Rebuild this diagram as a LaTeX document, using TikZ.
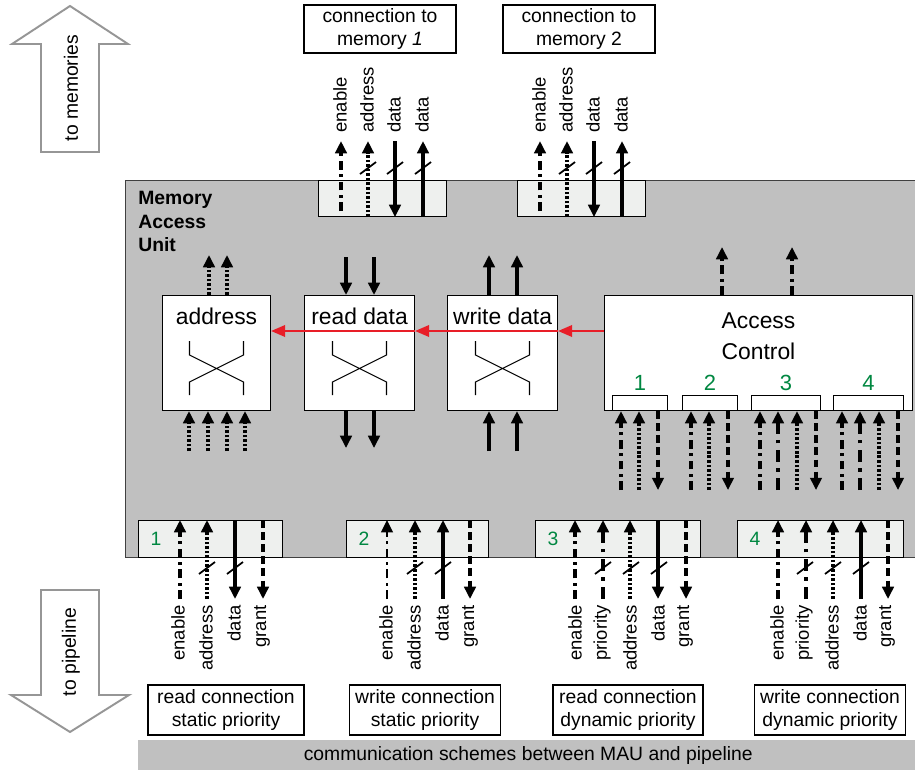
\documentclass[tikz,border=0pt]{standalone}
\usepackage{fontspec}
\setmainfont{Liberation Sans}
\usetikzlibrary{arrows.meta,calc}
\definecolor{maugray}{RGB}{192,192,192}
\definecolor{portgray}{RGB}{238,240,238}
\definecolor{numgreen}{RGB}{0,135,65}
\definecolor{ctlred}{RGB}{232,30,40}
\definecolor{outline}{RGB}{150,150,150}
\begin{document}
\begin{tikzpicture}[x=0.02cm,y=-0.02cm,font=\fontsize{11}{13.5}\selectfont,
  sigtip/.style={-{Triangle[length=7pt,width=6.5pt]}},
  ensig/.style={sigtip,line width=2pt,dash pattern=on 5pt off 2.6pt on 1.6pt off 2.6pt},
  adsig/.style={sigtip,line width=2.2pt,dash pattern=on 1.5pt off 1.1pt},
  dtsig/.style={sigtip,line width=2.2pt},
  grsig/.style={sigtip,line width=2pt,dash pattern=on 4.5pt off 2.4pt},
  prsig/.style={sigtip,line width=2.8pt,dash pattern=on 7pt off 3.5pt on 2pt off 3.5pt},
  bus/.style={line width=1pt},
  frm/.style={draw,line width=0.6pt,inner sep=0pt},
  blk/.style={frm,fill=white,anchor=north west,minimum height=2.3cm},
  port/.style={frm,fill=portgray,anchor=north west},
  cbox/.style={frm,fill=white,align=center,minimum height=0.96cm},
  vlab/.style={rotate=90,inner sep=0pt,font=\fontsize{10.5}{12}\selectfont},
  blab/.style={font=\fontsize{13}{17.6}\selectfont,align=center},
  num/.style={text=numgreen},
  fat/.style={draw=outline,line width=1.1pt,fill=white},
  redsig/.style={ctlred,line width=1.3pt,-{Triangle[length=8pt,width=6.5pt]}},
  xbar/.pic={\draw[line width=0.6pt] (-27,-12) -- (-27,2) -- (27,29) -- (27,42) (27,-12) -- (27,2) -- (-27,29) -- (-27,42);}]
\useasboundingbox (0,0) rectangle (915,770);
\draw[fat] (70,6) -- (128,44) -- (99,44) -- (99,152) -- (41,152) -- (41,44) -- (12,44) -- cycle;
\node[rotate=90] (tomem) at (71,88) {to memories};
\draw[fat] (41,590) -- (99,590) -- (99,695) -- (129,695) -- (70,732) -- (11,695) -- (41,695) -- cycle;
\node[rotate=90] (topipe) at (71,652) {to pipeline};
\node[frm,draw=black!75,fill=maugray,anchor=north west,minimum width=15.9cm,minimum height=7.54cm] (mau) at (125,180) {};
\node[anchor=north west,inner sep=0pt,align=left,font=\fontsize{11}{13.3}\selectfont\bfseries] (mautxt) at (138,191) {Memory\\Access\\Unit};
\node[cbox,minimum width=3.04cm] (mc1) at (380,29) {connection to\\memory \textit{1}};
\node[cbox,minimum width=3.04cm] (mc2) at (579,29) {connection to\\memory 2};
\node[port,minimum width=2.56cm,minimum height=0.72cm] (mp1) at (318,180) {};
\node[port,minimum width=2.56cm,minimum height=0.72cm] (mp2) at (517,180) {};
\foreach \p in {mp1,mp2} {
  \draw[ensig] ($(\p.south west)+(23,-6)$) -- ($(\p.south west)+(23,-76)$);
  \draw[adsig] ($(\p.south west)+(50,0)$) -- ++(0,-76);
  \draw[dtsig] ($(\p.south west)+(77,-76)$) -- ++(0,76);
  \draw[dtsig] ($(\p.south west)+(105,0)$) -- ++(0,-76);
  \foreach \dx in {50,77,105} \draw[bus] ($(\p.south west)+(\dx-8,-43)$) -- ++(16,-12);
  \foreach \dx/\t [count=\i] in {23/enable,50/address,77/data,105/data}
    \node[vlab,anchor=west] (\p l\i) at ($(\p.south west)+(\dx-1,-84)$) {\t};
}
\node[blk,minimum width=2.16cm] (addr) at (162,295) {};
\node[blk,minimum width=2.2cm] (rd) at (304,295) {};
\node[blk,minimum width=2.2cm] (wd) at (447,295) {};
\node[blk,minimum width=6.16cm] (ac) at (604,295) {};
\node[blab] (addrtxt) at ($(addr.north)+(0,21)$) {address};
\node[blab] (rdtxt) at ($(rd.north)+(0,21)$) {read data};
\node[blab] (wdtxt) at ($(wd.north)+(0,21)$) {write data};
\node[blab] (actxt) at ($(ac.north)+(0,41)$) {Access\\Control};
\pic at (addr.center) {xbar};
\pic at (rd.center) {xbar};
\pic at (wd.center) {xbar};
\foreach \dx in {47,65} \draw[adsig] ($(addr.north west)+(\dx,0)$) -- ++(0,-40);
\foreach \dx in {27,46,65,83} \draw[adsig] ($(addr.south west)+(\dx,40)$) -- ($(addr.south west)+(\dx,0)$);
\foreach \dx in {42,70} {
  \draw[dtsig] ($(rd.north west)+(\dx,-38)$) -- ($(rd.north west)+(\dx,0)$);
  \draw[dtsig] ($(rd.south west)+(\dx,0)$) -- ++(0,37);
  \draw[dtsig] ($(wd.north west)+(\dx,0)$) -- ++(0,-40);
  \draw[dtsig] ($(wd.south west)+(\dx,40)$) -- ($(wd.south west)+(\dx,0)$);
}
\foreach \dx in {118,188} \draw[ensig] ($(ac.north west)+(\dx,0)$) -- ++(0,-48);
\node[frm,fill=white,anchor=north west,minimum width=1.1cm,minimum height=0.3cm] (acp1) at (612,395) {};
\node[frm,fill=white,anchor=north west,minimum width=1.1cm,minimum height=0.3cm] (acp2) at (682,395) {};
\node[frm,fill=white,anchor=north west,minimum width=1.38cm,minimum height=0.3cm] (acp3) at (751,395) {};
\node[frm,fill=white,anchor=north west,minimum width=1.4cm,minimum height=0.3cm] (acp4) at (833,395) {};
\foreach \i in {1,...,4} \node[num,font=\fontsize{12.5}{14}\selectfont] (acn\i) at ($(acp\i.north)+(0,-12)$) {\i};
\foreach \p in {acp1,acp2} {
  \draw[ensig] ($(\p.south west)+(9,79)$) -- ($(\p.south west)+(9,0)$);
  \draw[adsig] ($(\p.south west)+(27,79)$) -- ($(\p.south west)+(27,0)$);
  \draw[grsig] ($(\p.south west)+(46,0)$) -- ++(0,79);
}
\foreach \p in {acp3,acp4} {
  \draw[ensig] ($(\p.south west)+(9,79)$) -- ($(\p.south west)+(9,0)$);
  \draw[prsig] ($(\p.south west)+(27,79)$) -- ($(\p.south west)+(27,0)$);
  \draw[adsig] ($(\p.south west)+(46,79)$) -- ($(\p.south west)+(46,0)$);
  \draw[grsig] ($(\p.south west)+(65,0)$) -- ++(0,79);
}
\coordinate (rc) at ($(ac.north west)+(0,36)$);
\draw[redsig] (rc) -- (rc -| wd.east);
\draw[redsig] (rc -| wd.east) -- (rc -| rd.east);
\draw[redsig] (rc -| rd.east) -- (rc -| addr.east);
\node[port,minimum width=2.88cm,minimum height=0.74cm] (pp1) at (138,520) {};
\node[port,minimum width=2.84cm,minimum height=0.74cm] (pp2) at (346,520) {};
\node[port,minimum width=3.3cm,minimum height=0.74cm] (pp3) at (535,520) {};
\node[port,minimum width=3.32cm,minimum height=0.74cm] (pp4) at (737,520) {};
\foreach \i in {1,...,4} \node[num] (ppn\i) at ($(pp\i.west)+(18,0)$) {\i};
\draw[ensig] ($(pp1.north west)+(42,79)$) -- ($(pp1.north west)+(42,0)$);
\draw[adsig] ($(pp1.north west)+(69,79)$) -- ($(pp1.north west)+(69,0)$);
\draw[dtsig] ($(pp1.north west)+(97,0)$) -- ++(0,79);
\draw[grsig] ($(pp1.north west)+(125,0)$) -- ++(0,79);
\draw[ensig,line width=1.4pt] ($(pp2.north west)+(41,79)$) -- ($(pp2.north west)+(41,0)$);
\draw[adsig] ($(pp2.north west)+(69,79)$) -- ($(pp2.north west)+(69,0)$);
\draw[dtsig] ($(pp2.north west)+(97,79)$) -- ($(pp2.north west)+(97,0)$);
\draw[grsig] ($(pp2.north west)+(124,0)$) -- ++(0,79);
\foreach \p in {pp1,pp2} {
  \foreach \dx in {69,97} \draw[bus] ($(\p.north west)+(\dx-8,54)$) -- ++(16,-12);
  \foreach \dx/\t [count=\i] in {41/enable,69/address,97/data,125/grant}
    \node[vlab,anchor=east] (\p l\i) at ($(\p.north west)+(\dx-1,85)$) {\t};
}
\draw[ensig] ($(pp3.north west)+(40,79)$) -- ($(pp3.north west)+(40,0)$);
\draw[prsig] ($(pp3.north west)+(68,79)$) -- ($(pp3.north west)+(68,0)$);
\draw[adsig] ($(pp3.north west)+(95,79)$) -- ($(pp3.north west)+(95,0)$);
\draw[dtsig] ($(pp3.north west)+(123,0)$) -- ++(0,79);
\draw[grsig] ($(pp3.north west)+(151,0)$) -- ++(0,79);
\draw[ensig] ($(pp4.north west)+(41,79)$) -- ($(pp4.north west)+(41,0)$);
\draw[prsig] ($(pp4.north west)+(69,79)$) -- ($(pp4.north west)+(69,0)$);
\draw[adsig] ($(pp4.north west)+(96,79)$) -- ($(pp4.north west)+(96,0)$);
\draw[dtsig] ($(pp4.north west)+(124,79)$) -- ($(pp4.north west)+(124,0)$);
\draw[grsig] ($(pp4.north west)+(151,0)$) -- ++(0,79);
\foreach \p in {pp3,pp4} {
  \foreach \dx in {68,96,124} \draw[bus] ($(\p.north west)+(\dx-8,54)$) -- ++(16,-12);
  \foreach \dx/\t [count=\i] in {41/enable,68/priority,96/address,124/data,151/grant}
    \node[vlab,anchor=east] (\p l\i) at ($(\p.north west)+(\dx-1,85)$) {\t};
}
\node[cbox,minimum width=3.12cm,minimum height=1cm] (rs) at (226,710) {read connection\\static priority};
\node[cbox,minimum width=3.02cm,minimum height=1cm] (ws) at (425,710) {write connection\\static priority};
\node[cbox,minimum width=3cm,minimum height=1cm] (rdyn) at (628,710) {read connection\\dynamic priority};
\node[cbox,minimum width=3.02cm,minimum height=1cm] (wdyn) at (830,710) {write connection\\dynamic priority};
\node[fill=maugray,anchor=north west,inner sep=0pt,minimum width=15.6cm,minimum height=0.6cm] (bar) at (138,740) {communication schemes between MAU and pipeline};
\end{tikzpicture}
\end{document}
